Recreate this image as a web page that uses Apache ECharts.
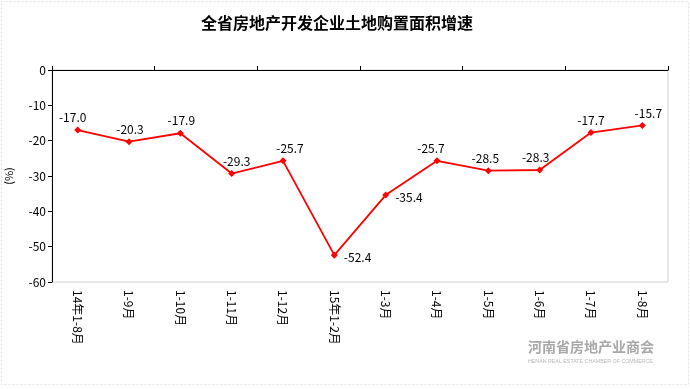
<!DOCTYPE html>
<html>
<head>
<meta charset="utf-8">
<script src="https://cdn.jsdelivr.net/npm/echarts@6/dist/echarts.min.js"></script>
<style>html,body{margin:0;padding:0;background:#fff}#c{width:690px;height:389px}</style>
</head>
<body>
<div id="c"></div>
<script>
var categories = ['14年1-8月','1-9月','1-10月','1-11月','1-12月','15年1-2月','1-3月','1-4月','1-5月','1-6月','1-7月','1-8月'];
var values = [-17.0, -20.3, -17.9, -29.3, -25.7, -52.4, -35.4, -25.7, -28.5, -28.3, -17.7, -15.7];
var yTicks = [0, -10, -20, -30, -40, -50, -60];
var labelOffsets = [[-5,0],[1,0],[1,0],[5,0],[7,0],null,null,[-6,0],[-3,0],[-4,0],[0,0],[6,0]];

var F = '"Noto Sans CJK SC", sans-serif';
var chart = echarts.init(document.getElementById('c'), null, {renderer: 'canvas'});
var data = values.map(function (v, i) {
  var d = {value: v};
  if (labelOffsets[i] === null) {
    d.label = {position: 'right', distance: 6, offset: [0, 2]};
  } else {
    d.label = {offset: labelOffsets[i]};
  }
  return d;
});
chart.setOption({
  animation: false,
  backgroundColor: '#fff',
  title: {
    text: '全省房地产开发企业土地购置面积增速',
    left: 332, top: 10, textAlign: 'center',
    textStyle: {fontFamily: F, fontSize: 16, fontWeight: 'bold', color: '#000'}
  },
  grid: {left: 52, right: 22, top: 70, bottom: 107, containLabel: false, outerBoundsMode: 'none',
    show: true, borderColor: '#d0d0d0', borderWidth: 1},
  xAxis: [{
    type: 'category', data: categories, position: 'top', boundaryGap: true,
    axisLine: {show: true, lineStyle: {color: '#000', width: 1}},
    axisTick: {show: true, length: 4, lineStyle: {color: '#000'}},
    axisLabel: {show: false}
  }, {
    type: 'category', data: categories, position: 'bottom', boundaryGap: true,
    axisLine: {show: false},
    axisTick: {show: false},
    axisLabel: {show: true, rotate: -90, margin: 8, interval: 0, fontFamily: F, fontSize: 12, color: '#000'}
  }],
  yAxis: {
    type: 'value', min: -60, max: 0, interval: 10,
    name: '(%)', nameLocation: 'middle', nameGap: 38, nameRotate: 90,
    nameTextStyle: {fontFamily: F, fontSize: 11, color: '#000'},
    axisLine: {show: true, lineStyle: {color: '#000'}},
    axisTick: {show: true, length: 4, lineStyle: {color: '#000'}},
    axisLabel: {fontFamily: F, fontSize: 12, color: '#000', margin: 6},
    splitLine: {show: false}
  },
  series: [{
    type: 'line', xAxisIndex: 0, data: data,
    symbol: 'diamond', symbolSize: 7,
    itemStyle: {color: '#ff0000'},
    lineStyle: {color: '#ff0000', width: 1.8},
    label: {show: true, position: 'top', distance: 3, fontFamily: F, fontSize: 12, color: '#000',
      formatter: function (p) { return p.value.toFixed(1); }}
  }],
  graphic: [
    {type: 'rect', shape: {x: 1.5, y: 1.5, width: 687, height: 383}, style: {fill: 'none', stroke: '#e0e0e0', lineDash: [2, 2]}, silent: true},
    {type: 'text', left: 528, top: 340, style: {text: '河南省房地产业商会', font: 'bold 14px "Noto Sans CJK SC"', fill: '#a8a8a8'}},
    {type: 'text', left: 528, top: 359, style: {text: 'HENAN REAL ESTATE CHAMBER OF COMMERCE', font: '5.3px "Liberation Sans"', fill: '#b8b8b8'}}
  ]
});
</script>
</body>
</html>
